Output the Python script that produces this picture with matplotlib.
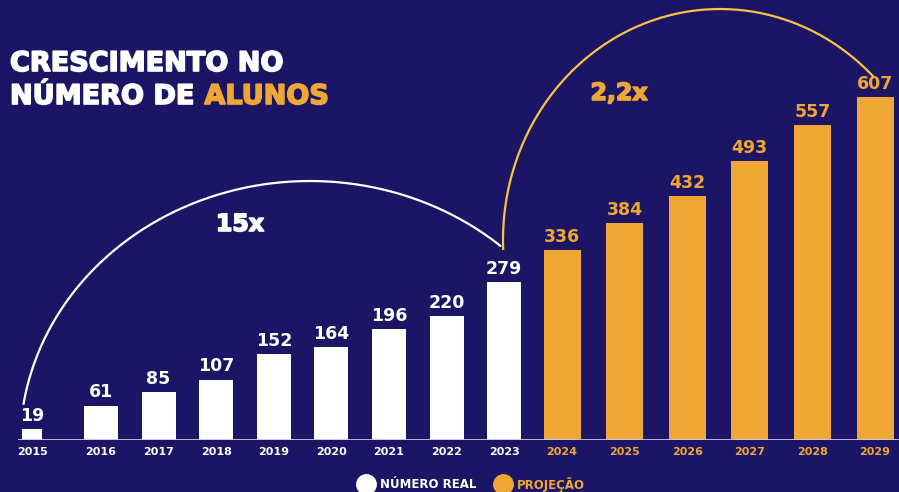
import numpy as np
import matplotlib
matplotlib.use("Agg")
import matplotlib.pyplot as plt
import matplotlib.patheffects as pe
from matplotlib.lines import Line2D

# dados: alunos por ano (real e projeção)
anos_reais = ["2015", "2016", "2017", "2018", "2019", "2020", "2021", "2022", "2023"]
alunos_reais = [19, 61, 85, 107, 152, 164, 196, 220, 279]
anos_proj = ["2024", "2025", "2026", "2027", "2028", "2029"]
alunos_proj = [336, 384, 432, 493, 557, 607]

FUNDO = "#1c1565"
BRANCO = "#ffffff"
LARANJA = "#eea734"
AMARELO = "#f6c444"
W, H = 899, 492

plt.rcParams["font.family"] = ["DejaVu Sans"]
plt.rcParams["font.weight"] = "bold"

fig = plt.figure(figsize=(W / 100, H / 100), dpi=100, facecolor=FUNDO)

# eixo das barras: linha de base a 440 px do topo
base_px = 440
px_por_aluno = 0.565
ax = fig.add_axes([0, (H - base_px) / H, 1, base_px / H])
ax.set_facecolor(FUNDO)
ax.set_xlim(0, W)
ax.set_ylim(0, base_px / px_por_aluno)

# posições das colunas (em pixels)
x_reais = np.r_[32, 101 + 57.6 * np.arange(len(anos_reais) - 1)]
x_proj = 562 + 62.6 * np.arange(len(anos_proj))
larg_reais = [20] + [34] * (len(anos_reais) - 1)

ax.bar(x_reais, alunos_reais, width=larg_reais, color=BRANCO, zorder=3)
ax.bar(x_proj, alunos_proj, width=37, color=LARANJA, zorder=3)

for x, v in zip(x_reais, alunos_reais):
    ax.annotate(str(v), (x, v), xytext=(0, 3), textcoords="offset points",
                ha="center", va="bottom", color=BRANCO, fontsize=12.5, fontweight="bold")
for x, v in zip(x_proj, alunos_proj):
    ax.annotate(str(v), (x, v), xytext=(0, 3), textcoords="offset points",
                ha="center", va="bottom", color=LARANJA, fontsize=12.5, fontweight="bold")

ax.hlines(0, 18, W, color="#c9c6d9", lw=1.3, zorder=4)
for s in ax.spines.values():
    s.set_visible(False)
ax.set_yticks([])
ax.set_xticks(list(x_reais) + list(x_proj))
ax.set_xticklabels(anos_reais + anos_proj, fontsize=8, fontweight="bold")
for i, lab in enumerate(ax.get_xticklabels()):
    lab.set_color(BRANCO if i < len(anos_reais) else LARANJA)
ax.tick_params(axis="x", length=0, pad=5)

# camada de anotações em pixels
ov = fig.add_axes([0, 0, 1, 1])
ov.set_xlim(0, W)
ov.set_ylim(H, 0)
ov.axis("off")
ov.patch.set_alpha(0)


def grosso(cor):
    # engrossa um pouco o traço do título
    return [pe.withStroke(linewidth=1.2, foreground=cor)]


ov.text(10, 71, "CRESCIMENTO NO", color=BRANCO, fontsize=19.5,
        fontweight="bold", va="baseline", path_effects=grosso(BRANCO))
t2 = ov.text(10, 104, "NÚMERO DE", color=BRANCO, fontsize=19.5,
             fontweight="bold", va="baseline", path_effects=grosso(BRANCO))
ov.annotate("ALUNOS", xy=(1, 0), xycoords=t2, xytext=(7, 0),
            textcoords="offset points", color=LARANJA, fontsize=19.5,
            fontweight="bold", va="bottom", ha="left",
            path_effects=grosso(LARANJA))

# arcos
t = np.radians(np.linspace(171, 49, 200))
ov.plot(310 + 290 * np.cos(t), 445 - 264 * np.sin(t), color=BRANCO, lw=1.6)
t = np.radians(np.linspace(182.2, 45.2, 200))
ov.plot(720 + 217 * np.cos(t), 240 - 231 * np.sin(t), color=AMARELO, lw=1.6)

ov.text(240, 224, "15x", color=BRANCO, fontsize=17, fontweight="bold",
        ha="center", va="center", path_effects=grosso(BRANCO))
ov.text(619, 93, "2,2x", color=LARANJA, fontsize=17, fontweight="bold",
        ha="center", va="center", path_effects=grosso(LARANJA))

# legenda
handles = [
    Line2D([], [], marker="o", ls="", markersize=14, color=BRANCO),
    Line2D([], [], marker="o", ls="", markersize=14, color=LARANJA),
]
fig.legend(handles, ["NÚMERO REAL", "PROJEÇÃO"], loc="center",
           bbox_to_anchor=(472 / W, (H - 484) / H), ncol=2, frameon=False,
           labelcolor=[BRANCO, LARANJA], prop={"size": 8.5, "weight": "bold"},
           handletextpad=0.6, columnspacing=1.6, handlelength=1.2)

fig.savefig("out.png", dpi=100, facecolor=FUNDO)
